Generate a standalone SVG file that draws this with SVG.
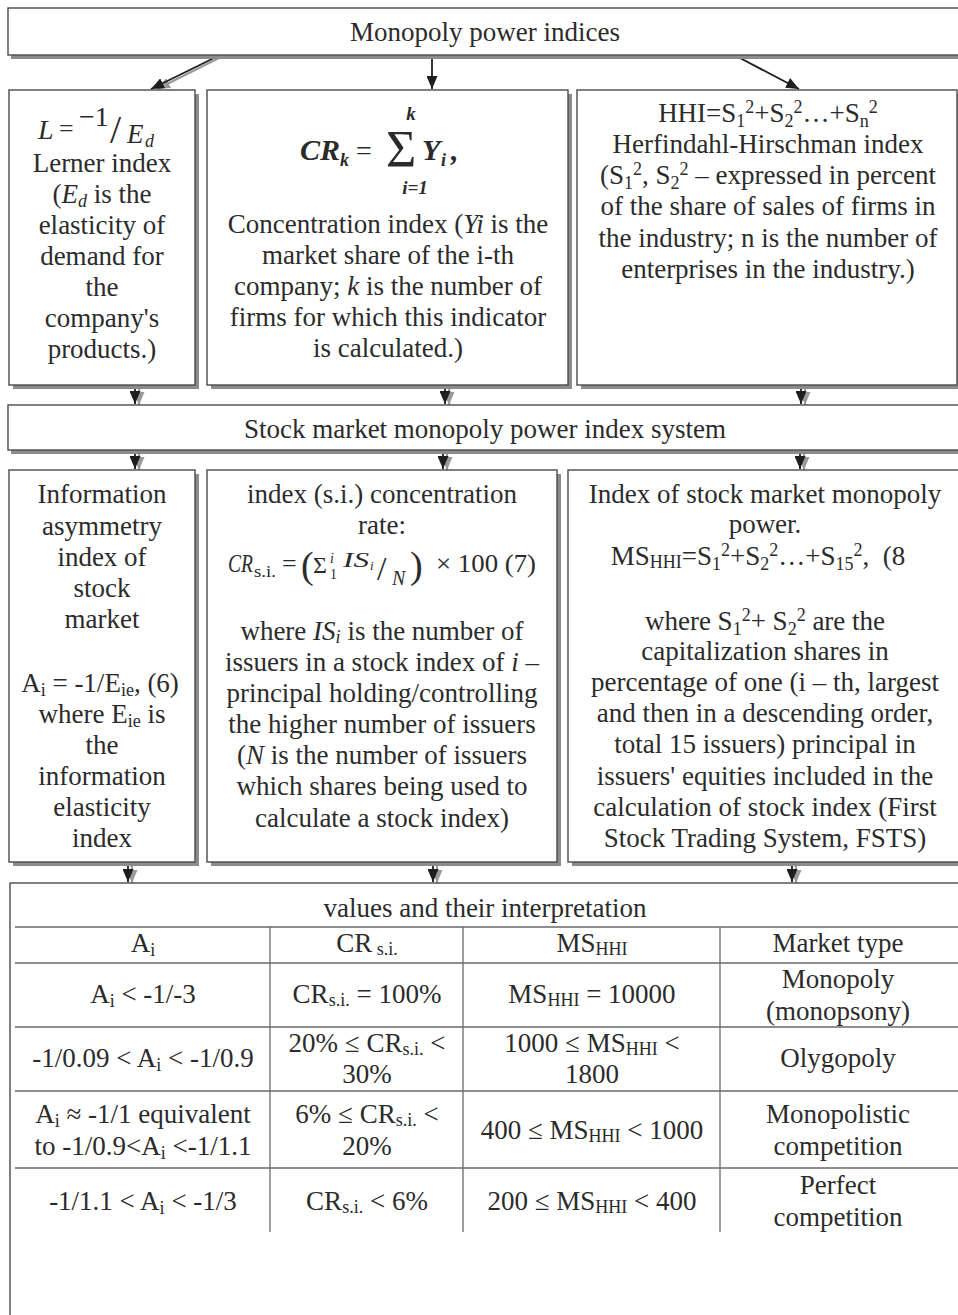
<svg xmlns="http://www.w3.org/2000/svg" width="958" height="1315" viewBox="0 0 958 1315">
<style>
.bx{fill:#fff;stroke:#4a4a4a;stroke-width:1.4}
.sh{fill:#8c8c8c}
.t{font-family:"Liberation Serif","Times New Roman",serif;font-size:27px;fill:#2b2b2b;text-anchor:middle}
.s{font-family:"Liberation Serif","Times New Roman",serif;fill:#2b2b2b}
.sb{font-size:18px}
.it{font-style:italic}
.bi{font-style:italic;font-weight:bold}
.ln{stroke:#1e1e1e;stroke-width:1.8;fill:none}
.lns{stroke:#9a9a9a;stroke-width:2.2;fill:none}
.tl{stroke:#6a6a6a;stroke-width:1.3;fill:none}
</style>
<defs>
<marker id="ah" markerUnits="userSpaceOnUse" markerWidth="13" markerHeight="11" refX="13" refY="5.5" orient="auto"><path d="M0,0 L13,5.5 L0,11 Z" fill="#1e1e1e"/></marker>
<marker id="ahs" markerUnits="userSpaceOnUse" markerWidth="13" markerHeight="11" refX="13" refY="5.5" orient="auto"><path d="M0,0 L13,5.5 L0,11 Z" fill="#9a9a9a"/></marker>
</defs>
<rect width="958" height="1315" fill="#fff"/>

<g id="connectors">
<line class="lns" x1="219" y1="58" x2="157" y2="89" marker-end="url(#ahs)"/>
<line class="ln" x1="214" y1="58" x2="151" y2="89" marker-end="url(#ah)"/>
<line class="ln" x1="432" y1="58" x2="432" y2="89" marker-end="url(#ah)"/>
<line class="ln" x1="738" y1="57" x2="799" y2="89" marker-end="url(#ah)"/>

<line class="lns" x1="139" y1="388" x2="139" y2="405" marker-end="url(#ahs)"/>
<line class="ln" x1="135" y1="387" x2="135" y2="404" marker-end="url(#ah)"/>
<line class="lns" x1="449" y1="388" x2="449" y2="405" marker-end="url(#ahs)"/>
<line class="ln" x1="445" y1="387" x2="445" y2="404" marker-end="url(#ah)"/>
<line class="lns" x1="805" y1="388" x2="805" y2="405" marker-end="url(#ahs)"/>
<line class="ln" x1="801" y1="387" x2="801" y2="404" marker-end="url(#ah)"/>

<line class="lns" x1="139" y1="453" x2="139" y2="470" marker-end="url(#ahs)"/>
<line class="ln" x1="135" y1="452" x2="135" y2="469" marker-end="url(#ah)"/>
<line class="lns" x1="447" y1="453" x2="447" y2="470" marker-end="url(#ahs)"/>
<line class="ln" x1="443" y1="452" x2="443" y2="469" marker-end="url(#ah)"/>
<line class="lns" x1="804" y1="453" x2="804" y2="470" marker-end="url(#ahs)"/>
<line class="ln" x1="800" y1="452" x2="800" y2="469" marker-end="url(#ah)"/>

<line class="lns" x1="132" y1="866" x2="132" y2="883" marker-end="url(#ahs)"/>
<line class="ln" x1="128" y1="865" x2="128" y2="882" marker-end="url(#ah)"/>
<line class="lns" x1="437" y1="866" x2="437" y2="883" marker-end="url(#ahs)"/>
<line class="ln" x1="433" y1="865" x2="433" y2="882" marker-end="url(#ah)"/>
<line class="lns" x1="796" y1="866" x2="796" y2="883" marker-end="url(#ahs)"/>
<line class="ln" x1="792" y1="865" x2="792" y2="882" marker-end="url(#ah)"/>
</g>

<g id="n-top">
<rect class="sh" x="11" y="12" width="965" height="47"/>
<rect class="bx" x="8" y="8" width="965" height="47"/>
<text class="t" x="485" y="41">Monopoly power indices</text>
</g>

<g id="n-lerner">
<rect class="sh" x="13" y="94" width="186" height="295"/>
<rect class="bx" x="9" y="90" width="186" height="295"/>
<text class="s it" x="38" y="139" font-size="28">L</text>
<text class="s" x="59" y="137" font-size="26">=</text>
<text class="s" x="79" y="126" font-size="28">−1</text>
<text class="s" x="110" y="143" font-size="40">/</text>
<text class="s it" x="127" y="143" font-size="27">E</text>
<text class="s it" x="145" y="147" font-size="18">d</text>
<text class="t" x="102" y="172">Lerner index</text>
<text class="t" x="102" y="203">(<tspan class="it">E</tspan><tspan class="it sb" dy="4">d</tspan><tspan dy="-4"> is the</tspan></text>
<text class="t" x="102" y="234">elasticity of</text>
<text class="t" x="102" y="265">demand for</text>
<text class="t" x="102" y="296">the</text>
<text class="t" x="102" y="327">company's</text>
<text class="t" x="102" y="358">products.)</text>
</g>

<g id="n-cr">
<rect class="sh" x="211" y="94" width="361" height="295"/>
<rect class="bx" x="207" y="90" width="361" height="295"/>
<text class="s bi" x="300" y="160" font-size="30">CR</text>
<text class="s bi" x="340" y="166" font-size="18">k</text>
<text class="s" x="356" y="160" font-size="28">=</text>
<text class="s" x="386" y="167" font-size="52">Σ</text>
<text class="s bi" x="411" y="120" font-size="19" text-anchor="middle">k</text>
<text class="s bi" x="415" y="194" font-size="19" text-anchor="middle">i=1</text>
<text class="s bi" x="422" y="160" font-size="30">Y</text>
<text class="s bi" x="441" y="166" font-size="18">i</text>
<text class="s bi" x="451" y="160" font-size="30">,</text>
<text class="t" x="388" y="233">Concentration index (<tspan class="it">Yi</tspan> is the</text>
<text class="t" x="388" y="264">market share of the i-th</text>
<text class="t" x="388" y="295">company; <tspan class="it">k</tspan> is the number of</text>
<text class="t" x="388" y="326">firms for which this indicator</text>
<text class="t" x="388" y="357">is calculated.)</text>
</g>

<g id="n-hhi">
<rect class="sh" x="581" y="94" width="380" height="295"/>
<rect class="bx" x="577" y="90" width="380" height="295"/>
<text class="t" x="768" y="122">HHI=S<tspan class="sb" dy="5">1</tspan><tspan class="sb" dy="-14">2</tspan><tspan dy="9">+S</tspan><tspan class="sb" dy="5">2</tspan><tspan class="sb" dy="-14">2</tspan><tspan dy="9">…+S</tspan><tspan class="sb" dy="5">n</tspan><tspan class="sb" dy="-14">2</tspan></text>
<text class="t" x="768" y="153">Herfindahl-Hirschman index</text>
<text class="t" x="768" y="184">(S<tspan class="sb" dy="5">1</tspan><tspan class="sb" dy="-14">2</tspan><tspan dy="9">, S</tspan><tspan class="sb" dy="5">2</tspan><tspan class="sb" dy="-14">2</tspan><tspan dy="9"> – expressed in percent</tspan></text>
<text class="t" x="768" y="215">of the share of sales of firms in</text>
<text class="t" x="768" y="247">the industry; n is the number of</text>
<text class="t" x="768" y="278">enterprises in the industry.)</text>
</g>

<g id="n-stock">
<rect class="sh" x="11" y="409" width="965" height="45"/>
<rect class="bx" x="8" y="405" width="965" height="45"/>
<text class="t" x="485" y="438">Stock market monopoly power index system</text>
</g>

<g id="n-info">
<rect class="sh" x="13" y="474" width="186" height="392"/>
<rect class="bx" x="9" y="470" width="186" height="392"/>
<text class="t" x="102" y="503">Information</text>
<text class="t" x="102" y="535">asymmetry</text>
<text class="t" x="102" y="566">index of</text>
<text class="t" x="102" y="597">stock</text>
<text class="t" x="102" y="628">market</text>
<text class="t" x="100" y="692">A<tspan class="sb" dy="4">i</tspan><tspan dy="-4"> = -1/E</tspan><tspan class="sb" dy="4">ie</tspan><tspan dy="-4">, (6)</tspan></text>
<text class="t" x="102" y="723">where E<tspan class="sb" dy="4">ie</tspan><tspan dy="-4"> is</tspan></text>
<text class="t" x="102" y="754">the</text>
<text class="t" x="102" y="785">information</text>
<text class="t" x="102" y="816">elasticity</text>
<text class="t" x="102" y="847">index</text>
</g>

<g id="n-crsi">
<rect class="sh" x="211" y="474" width="350" height="392"/>
<rect class="bx" x="207" y="470" width="350" height="392"/>
<text class="t" x="382" y="503">index (s.i.) concentration</text>
<text class="t" x="382" y="534">rate:</text>
<text class="s it" x="228" y="572" font-size="25" textLength="25" lengthAdjust="spacingAndGlyphs">CR</text>
<text class="s" x="254" y="577" font-size="16" textLength="22" lengthAdjust="spacingAndGlyphs">s.i.</text>
<text class="s" x="282" y="572" font-size="26">=</text>
<text class="s" x="301" y="578" font-size="38">(</text>
<text class="s" x="313" y="573" font-size="24">Σ</text>
<text class="s it" x="330" y="563" font-size="14">i</text>
<text class="s" x="330" y="579" font-size="14">1</text>
<text class="s it" x="343" y="567" font-size="20" textLength="26" lengthAdjust="spacingAndGlyphs">IS</text>
<text class="s it" x="370" y="570" font-size="13">i</text>
<text class="s" x="377" y="580" font-size="34">/</text>
<text class="s it" x="392" y="585" font-size="20">N</text>
<text class="s" x="410" y="578" font-size="38">)</text>
<text class="s" x="436" y="572" font-size="26" textLength="100" lengthAdjust="spacingAndGlyphs">× 100 (7)</text>
<text class="t" x="382" y="640">where <tspan class="it">IS</tspan><tspan class="it sb" dy="3">i</tspan><tspan dy="-3"> is the number of</tspan></text>
<text class="t" x="382" y="671">issuers in a stock index of <tspan class="it">i</tspan> –</text>
<text class="t" x="382" y="702">principal holding/controlling</text>
<text class="t" x="382" y="733">the higher number of issuers</text>
<text class="t" x="382" y="764">(<tspan class="it">N</tspan> is the number of issuers</text>
<text class="t" x="382" y="795">which shares being used to</text>
<text class="t" x="382" y="827">calculate a stock index)</text>
</g>

<g id="n-mshhi">
<rect class="sh" x="572" y="474" width="395" height="392"/>
<rect class="bx" x="568" y="470" width="395" height="392"/>
<text class="t" x="765" y="503">Index of stock market monopoly</text>
<text class="t" x="765" y="533">power.</text>
<text class="t" x="758" y="565">MS<tspan class="sb" dy="3">HHI</tspan><tspan dy="-3">=S</tspan><tspan class="sb" dy="5">1</tspan><tspan class="sb" dy="-14">2</tspan><tspan dy="9">+S</tspan><tspan class="sb" dy="5">2</tspan><tspan class="sb" dy="-14">2</tspan><tspan dy="9">…+S</tspan><tspan class="sb" dy="5">15</tspan><tspan class="sb" dy="-14">2</tspan><tspan dy="9">, &#160;(8</tspan></text>
<text class="t" x="765" y="630">where S<tspan class="sb" dy="5">1</tspan><tspan class="sb" dy="-14">2</tspan><tspan dy="9">+ S</tspan><tspan class="sb" dy="5">2</tspan><tspan class="sb" dy="-14">2</tspan><tspan dy="9"> are the</tspan></text>
<text class="t" x="765" y="660">capitalization shares in</text>
<text class="t" x="765" y="691">percentage of one (i – th, largest</text>
<text class="t" x="765" y="722">and then in a descending order,</text>
<text class="t" x="765" y="753">total 15 issuers) principal in</text>
<text class="t" x="765" y="785">issuers' equities included in the</text>
<text class="t" x="765" y="816">calculation of stock index (First</text>
<text class="t" x="765" y="847">Stock Trading System, FSTS)</text>
</g>

<g id="n-table">
<rect class="bx" x="10" y="883" width="965" height="445"/>
<text class="t" x="485" y="917">values and their interpretation</text>
<path class="tl" d="M15,927 H958 M15,963 H958 M15,1027 H958 M15,1091 H958 M15,1168 H958 M270,927 V1232 M463,927 V1232 M720,927 V1232"/>
<text class="t" x="143" y="952">A<tspan class="sb" dy="4">i</tspan></text>
<text class="t" x="367" y="952">CR<tspan class="sb" dy="3"> s.i.</tspan></text>
<text class="t" x="592" y="952">MS<tspan class="sb" dy="3">HHI</tspan></text>
<text class="t" x="838" y="952">Market type</text>

<text class="t" x="143" y="1003">A<tspan class="sb" dy="4">i</tspan><tspan dy="-4"> &lt; -1/-3</tspan></text>
<text class="t" x="367" y="1003">CR<tspan class="sb" dy="3">s.i.</tspan><tspan dy="-3"> = 100%</tspan></text>
<text class="t" x="592" y="1003">MS<tspan class="sb" dy="3">HHI</tspan><tspan dy="-3"> = 10000</tspan></text>
<text class="t" x="838" y="988">Monopoly</text>
<text class="t" x="838" y="1020">(monopsony)</text>

<text class="t" x="143" y="1067">-1/0.09 &lt; A<tspan class="sb" dy="4">i</tspan><tspan dy="-4"> &lt; -1/0.9</tspan></text>
<text class="t" x="367" y="1052">20% ≤ CR<tspan class="sb" dy="3">s.i.</tspan><tspan dy="-3"> &lt;</tspan></text>
<text class="t" x="367" y="1083">30%</text>
<text class="t" x="592" y="1052">1000 ≤ MS<tspan class="sb" dy="3">HHI</tspan><tspan dy="-3"> &lt;</tspan></text>
<text class="t" x="592" y="1083">1800</text>
<text class="t" x="838" y="1067">Olygopoly</text>

<text class="t" x="143" y="1123">A<tspan class="sb" dy="4">i</tspan><tspan dy="-4"> ≈ -1/1 equivalent</tspan></text>
<text class="t" x="143" y="1155">to -1/0.9&lt;A<tspan class="sb" dy="4">i</tspan><tspan dy="-4"> &lt;-1/1.1</tspan></text>
<text class="t" x="367" y="1123">6% ≤ CR<tspan class="sb" dy="3">s.i.</tspan><tspan dy="-3"> &lt;</tspan></text>
<text class="t" x="367" y="1155">20%</text>
<text class="t" x="592" y="1139">400 ≤ MS<tspan class="sb" dy="3">HHI</tspan><tspan dy="-3"> &lt; 1000</tspan></text>
<text class="t" x="838" y="1123">Monopolistic</text>
<text class="t" x="838" y="1155">competition</text>

<text class="t" x="143" y="1210">-1/1.1 &lt; A<tspan class="sb" dy="4">i</tspan><tspan dy="-4"> &lt; -1/3</tspan></text>
<text class="t" x="367" y="1210">CR<tspan class="sb" dy="3">s.i.</tspan><tspan dy="-3"> &lt; 6%</tspan></text>
<text class="t" x="592" y="1210">200 ≤ MS<tspan class="sb" dy="3">HHI</tspan><tspan dy="-3"> &lt; 400</tspan></text>
<text class="t" x="838" y="1194">Perfect</text>
<text class="t" x="838" y="1226">competition</text>
</g>
</svg>
